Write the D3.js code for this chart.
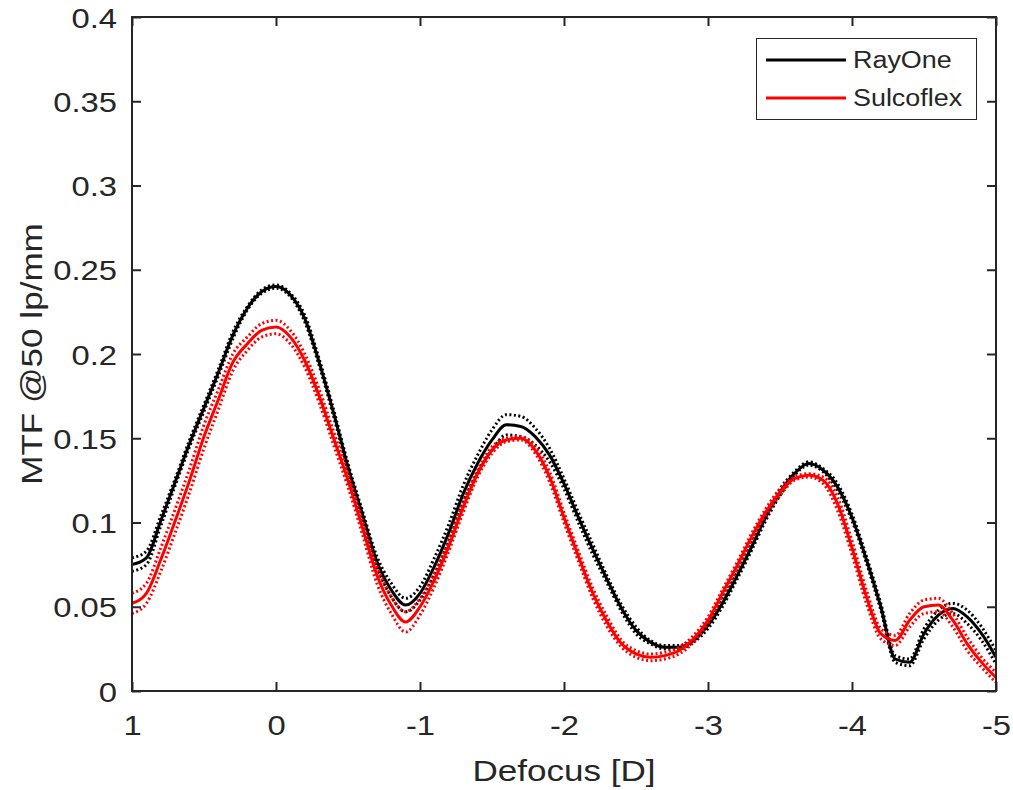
<!DOCTYPE html>
<html>
<head>
<meta charset="utf-8">
<script src="https://cdn.jsdelivr.net/npm/d3@7"></script>
<style>
  body { margin: 0; background: #fff; }
  text { font-family: "Liberation Sans", Arial, sans-serif; fill: #262626; }
</style>
</head>
<body>
<svg id="chart" width="1013" height="790"></svg>
<script>
// defocus grid, 1 D down to -5 D in 0.1 steps
const defocus = d3.range(0, 61).map(i => +(1 - i * 0.1).toFixed(1))

const rayOne = [
  0.075, 0.079, 0.101, 0.124, 0.147, 0.168, 0.189, 0.211, 0.227, 0.237,
  0.240, 0.235, 0.221, 0.195, 0.165, 0.133, 0.105, 0.077, 0.060, 0.051,
  0.058, 0.074, 0.094, 0.117, 0.135, 0.149, 0.158, 0.157, 0.151, 0.140,
  0.123, 0.103, 0.084, 0.066, 0.049, 0.036, 0.029, 0.026, 0.026, 0.030,
  0.039, 0.052, 0.068, 0.085, 0.103, 0.118, 0.129, 0.135, 0.131, 0.121,
  0.103, 0.078, 0.050, 0.019, 0.017, 0.034, 0.045, 0.049, 0.044, 0.034,
  0.020
]
const rayOneHi = [
  0.079, 0.083, 0.104, 0.126, 0.149, 0.170, 0.191, 0.213, 0.228, 0.238,
  0.241, 0.236, 0.223, 0.197, 0.167, 0.135, 0.107, 0.080, 0.064, 0.055,
  0.062, 0.079, 0.099, 0.122, 0.140, 0.155, 0.164, 0.163, 0.156, 0.144,
  0.126, 0.106, 0.087, 0.068, 0.051, 0.038, 0.030, 0.027, 0.027, 0.031,
  0.041, 0.054, 0.070, 0.087, 0.105, 0.120, 0.130, 0.136, 0.132, 0.123,
  0.105, 0.080, 0.052, 0.021, 0.019, 0.037, 0.048, 0.052, 0.048, 0.038,
  0.024
]
const rayOneLo = [
  0.071, 0.075, 0.098, 0.122, 0.145, 0.166, 0.187, 0.209, 0.226, 0.236,
  0.239, 0.234, 0.219, 0.193, 0.163, 0.131, 0.103, 0.074, 0.056, 0.047,
  0.054, 0.069, 0.089, 0.112, 0.130, 0.143, 0.152, 0.151, 0.146, 0.136,
  0.120, 0.100, 0.081, 0.064, 0.047, 0.034, 0.028, 0.025, 0.025, 0.029,
  0.037, 0.050, 0.066, 0.083, 0.101, 0.116, 0.128, 0.134, 0.130, 0.119,
  0.101, 0.076, 0.048, 0.017, 0.015, 0.031, 0.042, 0.046, 0.040, 0.030,
  0.016
]

const sulcoflex = [
  0.052, 0.058, 0.078, 0.101, 0.125, 0.151, 0.173, 0.195, 0.206, 0.214,
  0.216, 0.210, 0.196, 0.175, 0.150, 0.125, 0.097, 0.069, 0.051, 0.041,
  0.050, 0.066, 0.086, 0.109, 0.129, 0.143, 0.149, 0.150, 0.143, 0.127,
  0.103, 0.080, 0.058, 0.041, 0.028, 0.022, 0.020, 0.021, 0.024, 0.031,
  0.042, 0.058, 0.074, 0.091, 0.106, 0.118, 0.126, 0.128, 0.125, 0.111,
  0.085, 0.056, 0.034, 0.030, 0.042, 0.050, 0.051, 0.042, 0.028, 0.017,
  0.008
]
const sulcoflexHi = [
  0.058, 0.064, 0.085, 0.108, 0.132, 0.158, 0.179, 0.200, 0.210, 0.218,
  0.220, 0.214, 0.200, 0.179, 0.154, 0.129, 0.101, 0.074, 0.056, 0.047,
  0.055, 0.070, 0.089, 0.112, 0.131, 0.145, 0.150, 0.151, 0.145, 0.130,
  0.106, 0.083, 0.061, 0.044, 0.030, 0.024, 0.022, 0.023, 0.026, 0.033,
  0.044, 0.060, 0.076, 0.093, 0.108, 0.120, 0.127, 0.129, 0.127, 0.115,
  0.089, 0.060, 0.037, 0.033, 0.046, 0.054, 0.055, 0.046, 0.032, 0.020,
  0.011
]
const sulcoflexLo = [
  0.046, 0.052, 0.071, 0.094, 0.118, 0.144, 0.167, 0.190, 0.202, 0.210,
  0.212, 0.206, 0.192, 0.171, 0.146, 0.121, 0.093, 0.064, 0.046, 0.035,
  0.045, 0.062, 0.083, 0.106, 0.127, 0.141, 0.148, 0.149, 0.141, 0.124,
  0.100, 0.077, 0.055, 0.038, 0.026, 0.020, 0.018, 0.019, 0.022, 0.029,
  0.040, 0.056, 0.072, 0.089, 0.104, 0.116, 0.125, 0.127, 0.123, 0.107,
  0.081, 0.052, 0.031, 0.027, 0.038, 0.046, 0.047, 0.038, 0.024, 0.014,
  0.005
]

const xTicks = [1, 0, -1, -2, -3, -4, -5]
const yTicks = [0, 0.05, 0.1, 0.15, 0.2, 0.25, 0.3, 0.35, 0.4]
const seriesNames = ['RayOne', 'Sulcoflex']
const seriesColors = ['#000000', '#ff0000']

const plotLeft = 132, plotRight = 996, plotTop = 17, plotBottom = 691
const stretch = 1.17   // glyphs in the picture are wider than plain Arial
const ink = '#262626'

const svg = d3.select('#chart')

const x = d3.scaleLinear().domain([1, -5]).range([plotLeft, plotRight])
const y = d3.scaleLinear().domain([0, 0.4]).range([plotBottom, plotTop])

svg.append('defs').append('clipPath').attr('id', 'plot')
  .append('rect')
  .attr('x', plotLeft).attr('y', plotTop)
  .attr('width', plotRight - plotLeft).attr('height', plotBottom - plotTop)

const line = d3.line()
  .x(d => x(d[0]))
  .y(d => y(d[1]))
  .curve(d3.curveMonotoneX)

const series = [
  {name: seriesNames[0], color: seriesColors[0], mean: rayOne, hi: rayOneHi, lo: rayOneLo},
  {name: seriesNames[1], color: seriesColors[1], mean: sulcoflex, hi: sulcoflexHi, lo: sulcoflexLo}
]

const plot = svg.append('g').attr('clip-path', 'url(#plot)')
for (const s of series) {
  for (const band of [s.hi, s.lo]) {
    plot.append('path')
      .datum(defocus.map((d, i) => [d, band[i]]))
      .attr('d', line)
      .attr('fill', 'none')
      .attr('stroke', s.color)
      .attr('stroke-width', 3)
      .attr('stroke-dasharray', '2,2.5')
  }
  plot.append('path')
    .datum(defocus.map((d, i) => [d, s.mean[i]]))
    .attr('d', line)
    .attr('fill', 'none')
    .attr('stroke', s.color)
    .attr('stroke-width', 3)
    .attr('stroke-linejoin', 'round')
}

// axes, ticks pointing inward on all four sides
const xAxis = svg.append('g')
  .attr('transform', `translate(0,${plotBottom})`)
  .call(d3.axisBottom(x).tickValues(xTicks).tickSize(-9).tickFormat(d => String(d)))
xAxis.selectAll('text')
  .attr('y', null).attr('dy', null)
  .attr('transform', `translate(0,44) scale(${stretch},1)`)
  .attr('text-anchor', 'middle')

const yAxis = svg.append('g')
  .attr('transform', `translate(${plotLeft},0)`)
  .call(d3.axisLeft(y).tickValues(yTicks).tickSize(-9).tickFormat(d => String(+d.toFixed(2))))
yAxis.selectAll('text')
  .attr('x', null)
  .attr('dy', '0.36em')
  .attr('transform', `translate(-15,0) scale(${stretch},1)`)
  .attr('text-anchor', 'end')

svg.append('g')
  .attr('transform', `translate(0,${plotTop})`)
  .call(d3.axisTop(x).tickValues(xTicks).tickSize(-9).tickFormat(''))
svg.append('g')
  .attr('transform', `translate(${plotRight},0)`)
  .call(d3.axisRight(y).tickValues(yTicks).tickSize(-9).tickFormat(''))

svg.selectAll('.domain').remove()
svg.selectAll('.tick line').attr('stroke', ink).attr('stroke-width', 2)
svg.selectAll('.tick text').attr('font-size', 28).attr('fill', ink)
  .style('font-family', '"Liberation Sans", Arial, sans-serif')

svg.append('rect')
  .attr('x', plotLeft).attr('y', plotTop)
  .attr('width', plotRight - plotLeft).attr('height', plotBottom - plotTop)
  .attr('fill', 'none')
  .attr('stroke', ink)
  .attr('stroke-width', 2)

svg.append('text')
  .attr('transform', `translate(${(plotLeft + plotRight) / 2},781) scale(${stretch},1)`)
  .attr('text-anchor', 'middle')
  .attr('font-size', 30)
  .text('Defocus [D]')

svg.append('text')
  .attr('transform', `translate(42,${(plotTop + plotBottom) / 2}) rotate(-90) scale(${stretch},1)`)
  .attr('text-anchor', 'middle')
  .attr('font-size', 30)
  .text('MTF @50 lp/mm')

// legend
const legend = svg.append('g')
legend.append('rect')
  .attr('x', 756.5).attr('y', 38.5)
  .attr('width', 220).attr('height', 81)
  .attr('fill', '#fff')
  .attr('stroke', ink)
  .attr('stroke-width', 1)
series.forEach((s, i) => {
  const ly = 60 + i * 38
  legend.append('line')
    .attr('x1', 766).attr('x2', 846)
    .attr('y1', ly).attr('y2', ly)
    .attr('stroke', s.color)
    .attr('stroke-width', 3)
  legend.append('text')
    .attr('transform', `translate(853,${ly + 8}) scale(${stretch},1)`)
    .attr('font-size', 23)
    .attr('fill', '#000')
    .text(s.name)
})
</script>
</body>
</html>
